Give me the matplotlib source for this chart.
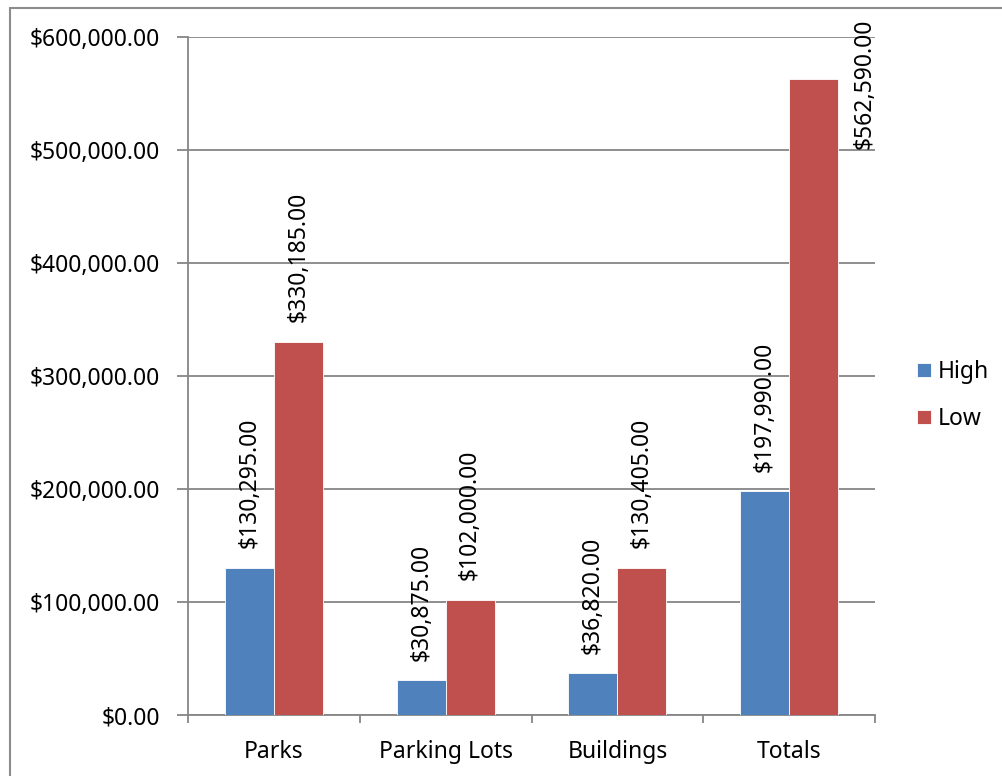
import matplotlib.pyplot as plt
from matplotlib.patches import Rectangle
from matplotlib.ticker import FuncFormatter, FixedLocator
import numpy as np

plt.rcParams['font.family'] = ['Noto Sans', 'DejaVu Sans']

# Cost estimates
categories = ['Parks', 'Parking Lots', 'Buildings', 'Totals']
high = [130295, 30875, 36820, 197990]
low = [330185, 102000, 130405, 562590]
series_names = ['High', 'Low']
series_colors = ['#4F81BD', '#C0504D']

fs = 16.5
grey = '#868686'

fig = plt.figure(figsize=(10.03, 7.76), dpi=100)
ax = fig.add_axes([188 / 1003, 61 / 776, 687 / 1003, 678 / 776])

# outer chart frame
fig.patches.append(Rectangle((10 / 1003, -0.05), 1.2, 1 - 8 / 776 + 0.05,
                             transform=fig.transFigure, fill=False,
                             edgecolor='#8C8C8C', linewidth=1.5))

x = np.arange(len(categories))
w = 0.285
ymax = 600000

bars = []
for k, vals in enumerate([high, low]):
    b = ax.bar(x + (k - 0.5) * w, vals, w, color=series_colors[k],
               edgecolor='white', linewidth=0.6, label=series_names[k], zorder=3)
    bars.append(b)

def money(v, pos=None):
    return f'${v:,.2f}'

# value labels, rotated; the tallest one goes beside its bar
for b in bars:
    for rect in b:
        v = rect.get_height()
        xc = rect.get_x() + rect.get_width() / 2
        if v > 0.85 * ymax:
            ax.annotate(money(v), (rect.get_x() + rect.get_width(), v),
                        xytext=(19, -3), textcoords='offset points',
                        rotation=90, ha='center', va='center', fontsize=fs,
                        annotation_clip=False, zorder=4)
        else:
            ax.annotate(money(v), (xc, v), xytext=(0, 14),
                        textcoords='offset points', rotation=90,
                        ha='center', va='bottom', fontsize=fs, zorder=4)

ax.set_xlim(-0.5, len(categories) - 0.5)
ax.set_ylim(0, ymax)
ax.yaxis.set_major_locator(FixedLocator(np.arange(0, ymax + 1, 100000)))
ax.yaxis.set_major_formatter(FuncFormatter(money))
ax.grid(axis='y', color=grey, linewidth=1.3, zorder=0)

ax.set_xticks(x)
ax.set_xticklabels(categories)
ax.set_xticks(np.arange(-0.5, len(categories)), minor=True)
ax.tick_params(axis='x', which='major', length=0, pad=18, labelsize=fs)
ax.tick_params(axis='x', which='minor', length=6, width=1.3, color=grey)
ax.tick_params(axis='y', length=8, width=1.3, color=grey, pad=12, labelsize=fs)

for side in ['top', 'right']:
    ax.spines[side].set_visible(False)
for side in ['left', 'bottom']:
    ax.spines[side].set_color(grey)
    ax.spines[side].set_linewidth(1.3)

ax.legend(loc='center left', bbox_to_anchor=(1.031, 0.471), frameon=False,
          fontsize=fs, handlelength=0.6, handleheight=0.6, handletextpad=0.3,
          labelspacing=1.0)

fig.savefig('out.png', dpi=100, facecolor='white')
